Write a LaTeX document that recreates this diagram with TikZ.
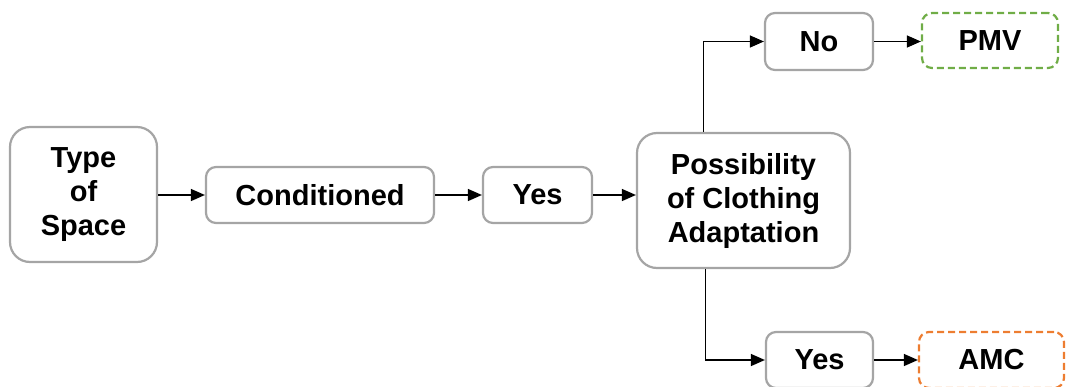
\documentclass[tikz,border=0pt]{standalone}
\usepackage{fontspec}
\setmainfont{Liberation Sans}
\usetikzlibrary{arrows.meta}
\definecolor{boxgray}{RGB}{165,165,165}
\definecolor{pmvgreen}{RGB}{112,173,71}
\definecolor{amcorange}{RGB}{237,125,49}
\begin{document}
\begin{tikzpicture}[x=1pt,y=-1pt,
  every node/.style={font=\fontsize{29}{34}\selectfont\bfseries, align=center, inner sep=0pt},
  plainbox/.style={draw=boxgray, line width=2.2pt, rounded corners=10pt, fill=white},
  bigbox/.style={plainbox, rounded corners=20pt},
  dashbox/.style={line width=2.2pt, rounded corners=10pt, dash pattern=on 7pt off 4pt},
  flow/.style={-{Triangle[length=14pt,width=12pt]}, line width=1.3pt, black}]
\useasboundingbox (0,0) rectangle (1066,386);

\node[bigbox, minimum width=147pt, minimum height=135pt] (tos) at (83.5,194.5) {Type\\of\\Space};
\node[plainbox, minimum width=228pt, minimum height=56pt] (cond) at (320,195) {Conditioned};
\node[plainbox, minimum width=109pt, minimum height=56pt] (yesa) at (537.5,195) {Yes};
\node[bigbox, minimum width=213pt, minimum height=135pt] (poss) at (743.5,200.5) {Possibility\\of Clothing\\Adaptation};
\node[plainbox, minimum width=108pt, minimum height=57pt] (no) at (819,41.5) {No};
\node[dashbox, draw=pmvgreen, minimum width=136pt, minimum height=55pt] (pmv) at (990,40.5) {PMV};
\node[plainbox, minimum width=107pt, minimum height=56pt] (yesb) at (819.5,360) {Yes};
\node[dashbox, draw=amcorange, minimum width=145pt, minimum height=56pt] (amc) at (991.5,360) {AMC};

\draw[flow] (tos.east |- cond.west) -- (cond.west);
\draw[flow] (cond.east) -- (yesa.west);
\draw[flow] (yesa.east) -- (yesa.east -| poss.west);
\draw[flow] ([xshift=-40pt]poss.north) |- (no.west);
\draw[flow] ([xshift=-38pt]poss.south) |- (yesb.west);
\draw[flow] (no.east) -- (no.east -| pmv.west);
\draw[flow] (yesb.east) -- (amc.west);
\end{tikzpicture}
\end{document}
